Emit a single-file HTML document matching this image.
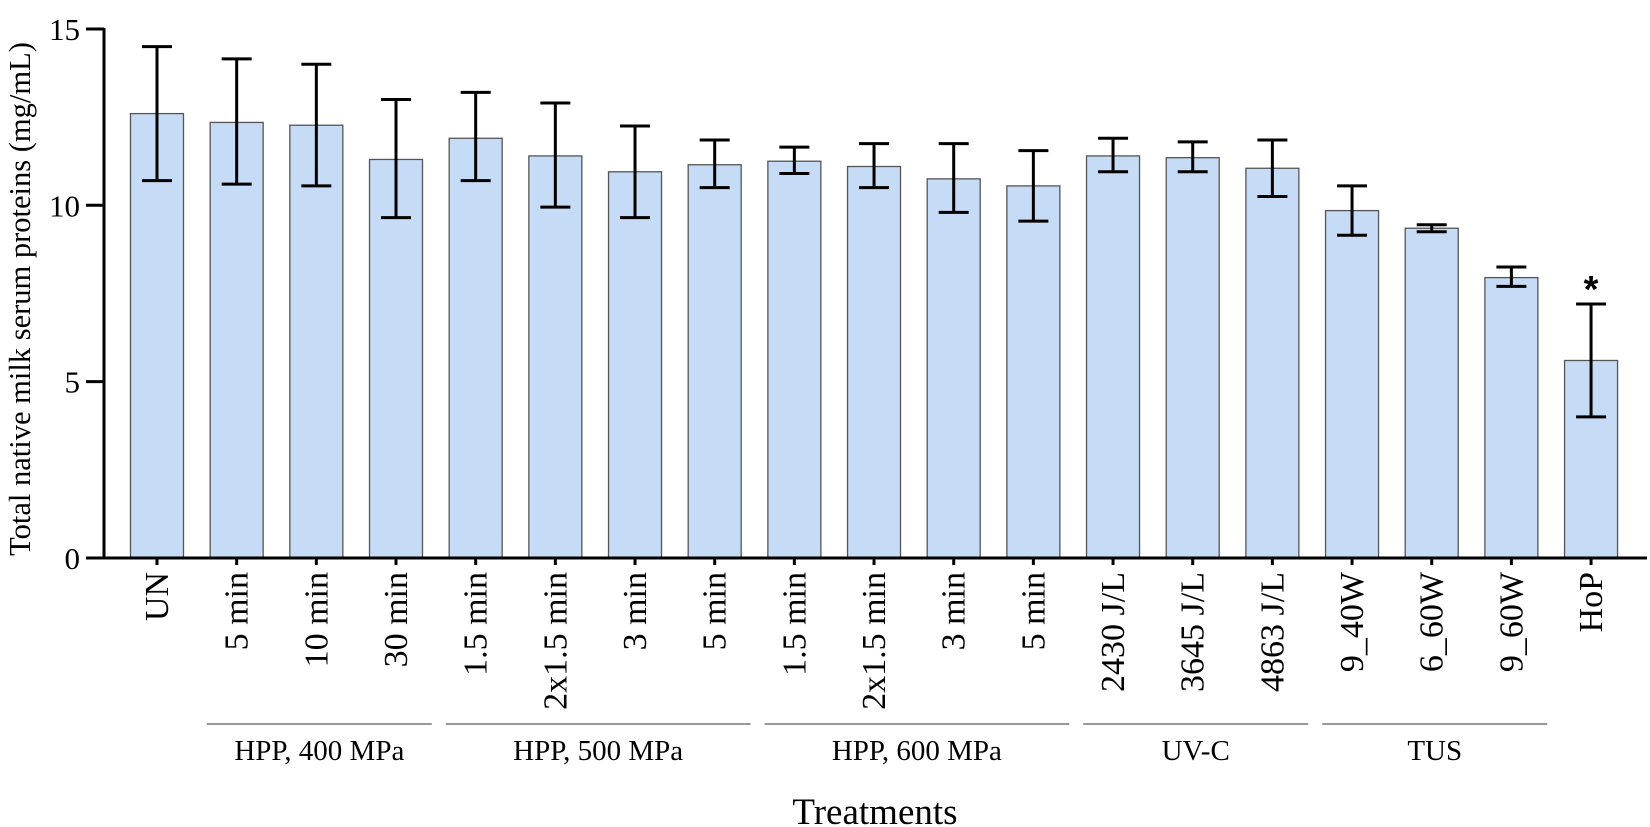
<!DOCTYPE html>
<html><head><meta charset="utf-8"><style>
html,body{margin:0;padding:0;background:#fff;}
svg{display:block;font-family:"Liberation Serif",serif;}
</style></head><body>
<svg width="1650" height="827" viewBox="0 0 1650 827">
<g id="plot"></g>
</svg>
<script>
const categories = ["UN","5 min","10 min","30 min","1.5 min","2x1.5 min","3 min","5 min","1.5 min","2x1.5 min","3 min","5 min","2430 J/L","3645 J/L","4863 J/L","9_40W","6_60W","9_60W","HoP"];
const means = [12.6,12.35,12.27,11.3,11.9,11.4,10.95,11.15,11.25,11.1,10.75,10.55,11.4,11.35,11.05,9.85,9.35,7.95,5.6];
const errLow = [10.7,10.6,10.55,9.65,10.7,9.95,9.65,10.5,10.9,10.5,9.8,9.55,10.95,10.95,10.25,9.15,9.25,7.7,4.0];
const errHigh = [14.5,14.15,14.0,13.0,13.2,12.9,12.25,11.85,11.65,11.75,11.75,11.55,11.9,11.8,11.85,10.55,9.45,8.25,7.2];
const yTicks = [0,5,10,15];
const groups = [["HPP, 400 MPa",1,3],["HPP, 500 MPa",4,7],["HPP, 600 MPa",8,11],["UV-C",12,14],["TUS",15,17]];
const starred = ["HoP"];

const NS="http://www.w3.org/2000/svg";
const g=document.getElementById('plot');
const y0=558, pxPer=35.27, x0=157, step=79.67, bw=53, axisX=104;
const yS=v=>y0-v*pxPer;
const xS=i=>x0+i*step;
function mk(t,a,txt){const e=document.createElementNS(NS,t);for(const k in a)e.setAttribute(k,a[k]);if(txt!==undefined)e.textContent=txt;g.appendChild(e);return e;}

categories.forEach((c,i)=>{
  const cx=xS(i);
  let r=mk('rect',{x:cx-bw/2,y:yS(means[i]),width:bw,height:yS(0)-yS(means[i]),fill:'#c6dbf5',stroke:'#555','stroke-width':1.3});
  
  
  let e=mk('path',{d:`M${cx},${yS(errLow[i])}V${yS(errHigh[i])}M${cx-15},${yS(errHigh[i])}H${cx+15}M${cx-15},${yS(errLow[i])}H${cx+15}`,stroke:'#000','stroke-width':3,fill:'none'});
  
  
  let t=mk('line',{x1:cx,x2:cx,y1:y0,y2:y0+7,stroke:'#000','stroke-width':3});
  
  
  let l=mk('text',{x:0,y:0,transform:`translate(${cx+11},572) rotate(-90)`,'text-anchor':'end','font-size':34,fill:'#000'},c);
  
  
  if(starred.includes(c)){
    let s=mk('text',{x:cx,y:yS(errHigh[i])-2,'text-anchor':'middle','font-size':38,'font-weight':'bold','font-family':'Liberation Sans, sans-serif',fill:'#000'},'*');
    
    
  }
});
yTicks.forEach(v=>{
  let t=mk('line',{x1:86,x2:axisX,y1:yS(v),y2:yS(v),stroke:'#000','stroke-width':3});
  
  
  let l=mk('text',{x:80,y:yS(v)+11,'text-anchor':'end','font-size':31,fill:'#000'},v);
  
  
});
let ya=mk('line',{x1:axisX,x2:axisX,y1:yS(15)-1,y2:y0+1.5,stroke:'#000','stroke-width':3});


let xa=mk('line',{x1:axisX-1.5,x2:1647,y1:y0,y2:y0,stroke:'#000','stroke-width':3});


groups.forEach(([name,a,b])=>{
  const x1=xS(a)-step/2+10, x2=xS(b)+step/2-4;
  let ln=mk('line',{x1:x1,x2:x2,y1:724,y2:724,stroke:'#777','stroke-width':1.5});
  
  
  let t=mk('text',{x:(x1+x2)/2,y:760,'text-anchor':'middle','font-size':29,fill:'#000'},name);
  
  
});
let xt=mk('text',{x:875,y:824,'text-anchor':'middle','font-size':37,fill:'#000'},'Treatments');


let yt=mk('text',{x:0,y:0,transform:'translate(30,299) rotate(-90)','text-anchor':'middle','font-size':30.5,fill:'#000'},'Total native milk serum proteins (mg/mL)');


</script>
</body></html>
